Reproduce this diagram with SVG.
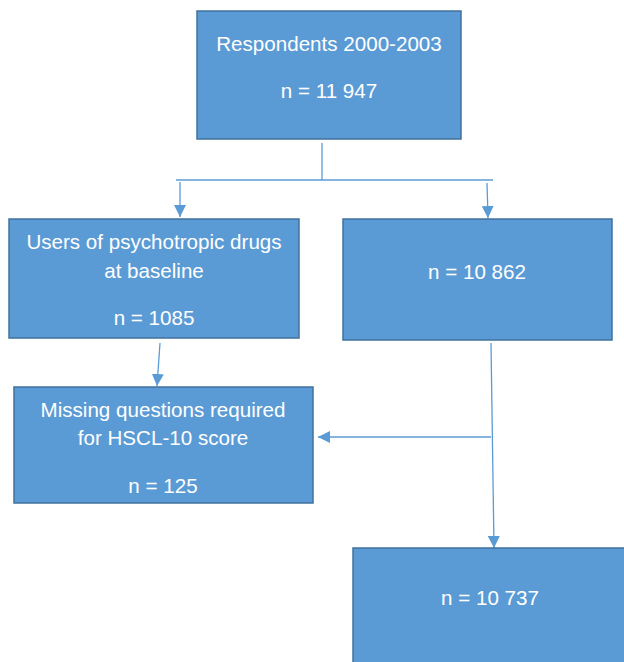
<svg xmlns="http://www.w3.org/2000/svg" width="624" height="662" viewBox="0 0 624 662">
<defs>
<style>
.box{fill:#5b9bd5;stroke:#41719c;stroke-width:1.5}
.t{fill:#ffffff;font-family:"Liberation Sans",Arial,sans-serif;font-size:20.6px;text-anchor:middle}
.c{fill:none;stroke:#5b9bd5;stroke-width:1.3}
</style>
<marker id="ah" viewBox="0 0 12 12" refX="12" refY="6" markerWidth="12" markerHeight="12" markerUnits="userSpaceOnUse" orient="auto">
<path d="M0,0 L12,6 L0,12 Z" fill="#5b9bd5"/>
</marker>
</defs>
<rect width="624" height="662" fill="#ffffff"/>
<g id="connectors">
<line class="c" x1="322" y1="143" x2="322" y2="180"/>
<line class="c" x1="176" y1="180" x2="493" y2="180"/>
<line class="c" x1="180" y1="182" x2="180" y2="217" marker-end="url(#ah)"/>
<line class="c" x1="487" y1="183" x2="488" y2="218" marker-end="url(#ah)"/>
<line class="c" x1="160" y1="343" x2="157" y2="386" marker-end="url(#ah)"/>
<line class="c" x1="491" y1="343" x2="494" y2="548" marker-end="url(#ah)"/>
<line class="c" x1="491" y1="437" x2="318" y2="437" marker-end="url(#ah)"/>
</g>
<g id="node-respondents">
<rect class="box" x="197" y="11" width="264" height="128"/>
<text class="t" x="329" y="51">Respondents 2000-2003</text>
<text class="t" x="329" y="98">n = 11 947</text>
</g>
<g id="node-users">
<rect class="box" x="9" y="219" width="290" height="119"/>
<text class="t" x="154" y="249">Users of psychotropic drugs</text>
<text class="t" x="154" y="278">at baseline</text>
<text class="t" x="154" y="325">n = 1085</text>
</g>
<g id="node-nonusers">
<rect class="box" x="343" y="219" width="269" height="121"/>
<text class="t" x="477" y="279">n = 10 862</text>
</g>
<g id="node-missing">
<rect class="box" x="14" y="387" width="299" height="116"/>
<text class="t" x="163" y="417">Missing questions required</text>
<text class="t" x="163" y="445">for HSCL-10 score</text>
<text class="t" x="163" y="493">n = 125</text>
</g>
<g id="node-final">
<rect class="box" x="353" y="548" width="276" height="120"/>
<text class="t" x="490" y="605">n = 10 737</text>
</g>
</svg>
